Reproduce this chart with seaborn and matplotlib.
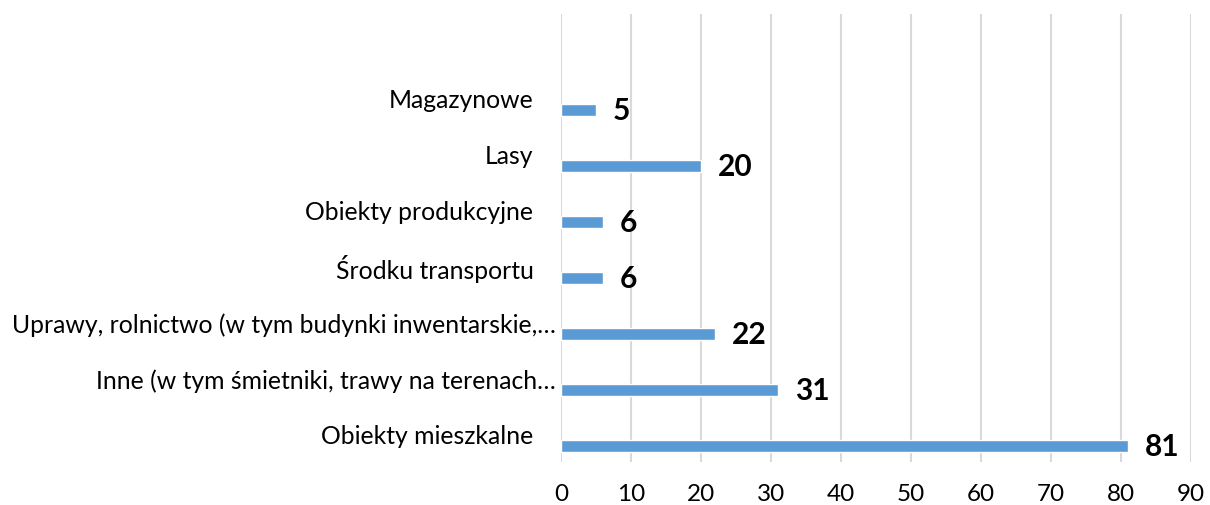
import seaborn as sns
import matplotlib.pyplot as plt
import matplotlib.transforms as mtransforms

# categories, top to bottom as in the chart
categories = [
    "Magazynowe",
    "Lasy",
    "Obiekty produkcyjne",
    "Środku transportu",
    "Uprawy, rolnictwo (w tym budynki inwentarskie,…",
    "Inne (w tym śmietniki, trawy na terenach…",
    "Obiekty mieszkalne",
]
counts = [5, 20, 6, 6, 22, 31, 81]
x_ticks = [0, 10, 20, 30, 40, 50, 60, 70, 80, 90]

sns.set_style("white")
plt.rcParams["font.family"] = ["Lato", "DejaVu Sans"]

fig = plt.figure(figsize=(12.10, 5.06), dpi=100)
ax = fig.add_axes([0.4636, 0.085, 0.5207, 0.8854])

bar_h = 0.214
sns.barplot(x=counts, y=categories, orient="h", color="#5B9BD5",
            width=bar_h, saturation=1, ax=ax)

# Excel-style: bar sits below the middle of its slot
for p in ax.patches:
    p.set_y(p.get_y() + bar_h)

texts = ax.bar_label(ax.containers[0], labels=[str(v) for v in counts],
                     padding=12, fontsize=21.5, fontweight="bold", color="black")
down = mtransforms.ScaledTranslation(0, -3 / 100, fig.dpi_scale_trans)
for t in texts:
    t.set_transform(t.get_transform() + down)

ax.set_xlim(0, 90)
ax.set_ylim(len(categories) - 0.5, -1.5)
ax.set_xticks(x_ticks)
ax.set_xticklabels([str(t) for t in x_ticks])
ax.set_xlabel("")
ax.set_ylabel("")

ax.grid(axis="x", color="#D9D9D9", linewidth=1.5)
ax.grid(axis="y", visible=False)
ax.set_axisbelow(True)
for s in ax.spines.values():
    s.set_visible(False)

ax.tick_params(axis="x", length=0, pad=15, labelsize=17.5, labelcolor="black")
ax.tick_params(axis="y", length=0, pad=4, labelsize=17.8, labelcolor="black")

# short labels end a bit further from the axis than the truncated ones
shift = mtransforms.ScaledTranslation(-22 / 100, 0, fig.dpi_scale_trans)
for lab in ax.get_yticklabels():
    if not lab.get_text().endswith("…"):
        lab.set_transform(lab.get_transform() + shift)

fig.savefig("out.png", dpi=100)
